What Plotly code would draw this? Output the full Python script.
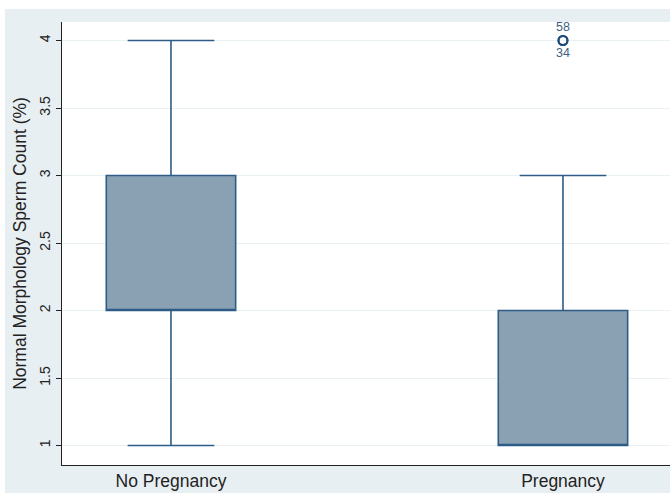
import plotly.graph_objects as go

# Box summaries per group
groups = ["No Pregnancy", "Pregnancy"]
positions = [0, 1]
q1 = [2, 1]
median = [2, 1]
q3 = [3, 2]
lower_whisker = [1, 1]
upper_whisker = [4, 3]

# Outlying observations (group position, value, observation id)
outlier_pos = [1, 1]
outlier_val = [4, 4]
outlier_id = ["58", "34"]
outlier_textpos = ["top center", "bottom center"]

y_ticks = [1, 1.5, 2, 2.5, 3, 3.5, 4]
y_ticktext = ["1", "1.5", "2", "2.5", "3", "3.5", "4"]

LINE = "#2d5c86"
FILL = "#8aa1b4"
BG = "#e8eff2"
FONT = "Liberation Sans, Arial, sans-serif"

fig = go.Figure()

fig.add_trace(go.Box(
    x=positions,
    q1=q1, median=median, q3=q3,
    lowerfence=lower_whisker, upperfence=upper_whisker,
    width=0.33,
    whiskerwidth=0.67,
    fillcolor=FILL,
    line=dict(color=LINE, width=1.6),
    boxpoints=False,
    showlegend=False,
))

fig.add_trace(go.Scatter(
    x=outlier_pos, y=outlier_val,
    mode="markers+text",
    text=outlier_id,
    textposition=outlier_textpos,
    textfont=dict(family=FONT, size=12.5, color="#3d5f82"),
    marker=dict(symbol="circle-open", size=9, color="#1f4d78", line=dict(width=2, color="#1f4d78")),
    showlegend=False,
    cliponaxis=False,
))

# white frame strips around the shaded outer region
fig.add_shape(type="rect", xref="paper", yref="paper",
              x0=-0.2, x1=1.2, y0=1.0 + 13 / 443, y1=1.2,
              fillcolor="white", line=dict(width=0), layer="below")
fig.add_shape(type="rect", xref="paper", yref="paper",
              x0=-0.2, x1=-57 / 608, y0=-0.2, y1=1.2,
              fillcolor="white", line=dict(width=0), layer="below")

fig.update_layout(
    width=670, height=493,
    margin=dict(l=62, r=0, t=22, b=28),
    paper_bgcolor=BG,
    plot_bgcolor="white",
    font=dict(family=FONT, color="#222"),
    xaxis=dict(
        range=[-0.278, 1.273],
        tickvals=positions, ticktext=groups,
        ticks="", showgrid=False, zeroline=False,
        showline=True, linecolor="#222", linewidth=1,
        tickfont=dict(size=17.5, color="#222"),
        ticklabelstandoff=0,
    ),
    yaxis=dict(
        range=[0.856, 4.137],
        tickvals=y_ticks, ticktext=y_ticktext,
        tickangle=-90,
        ticks="outside", ticklen=5, tickcolor="#222", tickwidth=1,
        showgrid=True, gridcolor="#e9f1f2", gridwidth=1,
        zeroline=False,
        showline=True, linecolor="#222", linewidth=1,
        tickfont=dict(size=14, color="#222"),
        title=dict(text="Normal Morphology Sperm Count (%)",
                   font=dict(size=17.5, color="#222"), standoff=6),
    ),
)

fig.write_html("out.html")
